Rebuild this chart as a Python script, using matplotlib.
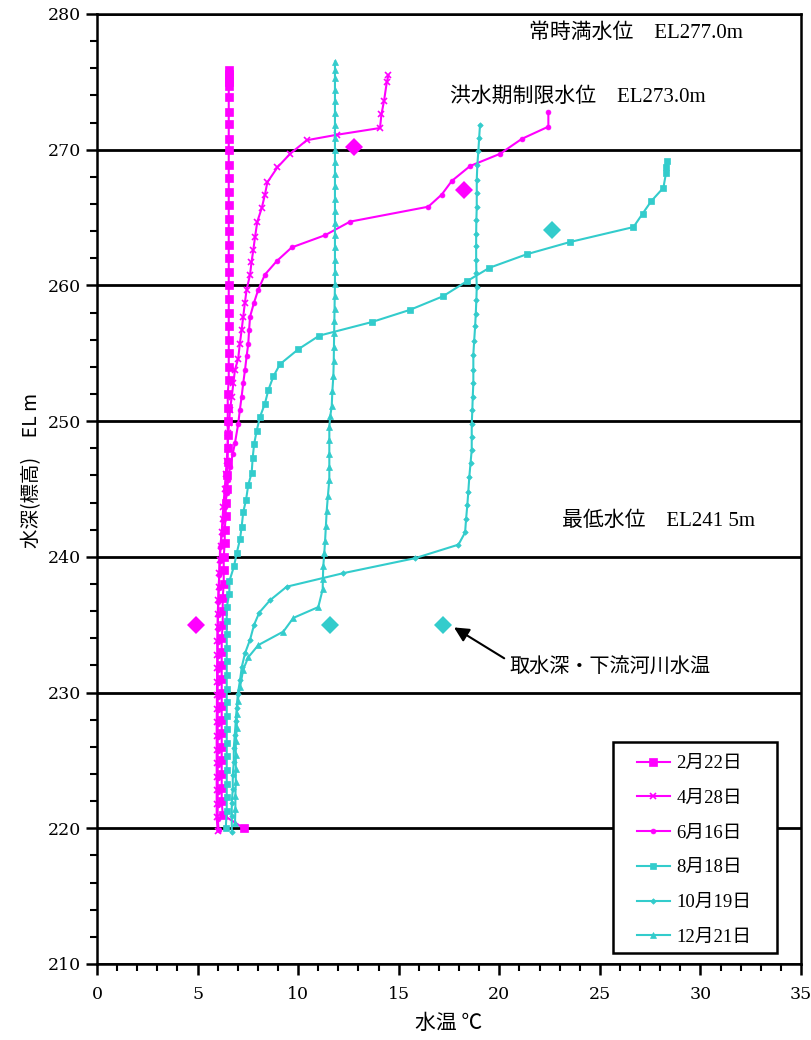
import matplotlib
matplotlib.use("Agg")
import matplotlib.pyplot as plt
from matplotlib.ticker import MultipleLocator
from matplotlib.patches import Rectangle

CJK = ['Liberation Serif', 'Noto Sans CJK JP', 'DejaVu Sans']
plt.rcParams['font.family'] = CJK

MAGENTA = '#FF00FF'
CYAN = '#33CCCC'

# ---- data ----
labels = ['2月22日', '4月28日', '6月16日', '8月18日', '10月19日', '12月21日']

el_feb = [275.9, 275.6, 275.3, 275.0, 274.7, 273.9, 272.8, 271.9, 270.8, 270.0,
          268.9, 267.9, 266.9, 265.9, 264.9, 264.0, 263.0, 262.0, 261.0, 260.0,
          259.0, 258.0, 257.0, 256.0, 255.0, 254.0, 253.0, 252.0, 251.0, 250.0,
          249.0, 248.0, 247.0, 246.0, 245.0, 244.0, 243.0, 242.0, 241.0, 240.0,
          239.0, 238.0, 237.0, 236.0, 235.0, 234.0, 233.0, 232.0, 231.0, 230.0,
          229.0, 228.0, 227.0, 226.0, 225.0, 224.0, 223.0, 222.0, 221.0, 220.0]
t_feb = [6.55, 6.55, 6.55, 6.55, 6.55, 6.55, 6.55, 6.55, 6.55, 6.55,
         6.55, 6.55, 6.55, 6.55, 6.55, 6.55, 6.55, 6.55, 6.55, 6.55,
         6.55, 6.55, 6.55, 6.55, 6.55, 6.55, 6.55, 6.5, 6.5, 6.5,
         6.5, 6.5, 6.5, 6.45, 6.45, 6.4, 6.4, 6.35, 6.35, 6.3,
         6.3, 6.3, 6.25, 6.25, 6.25, 6.2, 6.2, 6.2, 6.2, 6.2,
         6.2, 6.2, 6.2, 6.2, 6.2, 6.2, 6.2, 6.2, 6.25, 7.3]

el_apr = [275.5, 275.0, 273.6, 272.6, 271.6, 271.1, 270.7, 269.7, 268.7, 267.6,
          266.7, 265.7, 264.7, 263.6, 262.6, 261.7, 260.8, 259.7, 258.7, 257.7,
          256.7, 255.7, 254.6, 253.8, 252.8, 251.8, 250.8, 249.9, 249.1, 248.1,
          247.1, 246.1, 245.0, 243.7, 242.8, 241.8, 240.8, 239.8, 238.8, 237.8,
          236.8, 235.8, 234.8, 233.8, 232.8, 231.8, 230.8, 229.8, 228.8, 227.8,
          226.8, 225.8, 224.8, 223.8, 222.8, 221.8, 220.8, 219.8]
t_apr = [14.49, 14.41, 14.27, 14.14, 14.07, 11.92, 10.43, 9.6, 8.97, 8.47,
         8.35, 8.19, 7.97, 7.86, 7.77, 7.68, 7.61, 7.44, 7.35, 7.27,
         7.19, 7.1, 7.02, 6.86, 6.78, 6.7, 6.61, 6.57, 6.53, 6.49,
         6.45, 6.4, 6.35, 6.28, 6.24, 6.2, 6.15, 6.1, 6.08, 6.05,
         6.03, 6.0, 6.0, 5.98, 5.98, 5.97, 5.97, 5.96, 5.96, 5.95,
         5.95, 5.95, 5.95, 5.95, 5.95, 5.95, 5.95, 6.0]

el_jun = [272.8, 271.7, 270.8, 269.7, 268.8, 267.7, 266.7, 265.8, 264.7, 263.7,
          262.8, 261.8, 260.8, 259.7, 258.7, 257.7, 256.7, 255.7, 254.8, 253.8,
          252.8, 251.8, 250.8, 249.8, 248.4, 247.6, 246.6, 245.7, 244.7, 243.7,
          242.7, 241.7, 240.7, 239.7, 238.7, 237.7, 236.7, 235.7, 234.7, 233.7,
          232.7, 231.7, 230.7, 229.7, 228.7, 227.7, 226.7, 225.7, 224.7, 223.7,
          222.7, 221.7, 220.7, 219.9]
t_jun = [22.44, 22.44, 21.12, 20.04, 18.55, 17.64, 17.14, 16.47, 12.58, 11.34,
         9.68, 8.94, 8.35, 8.02, 7.8, 7.61, 7.56, 7.52, 7.44, 7.36,
         7.27, 7.19, 7.1, 7.02, 6.86, 6.75, 6.61, 6.52, 6.45, 6.36,
         6.28, 6.2, 6.12, 6.1, 6.08, 6.05, 6.03, 6.02, 6.0, 6.0,
         6.0, 6.0, 6.0, 6.0, 6.0, 6.0, 6.0, 6.0, 6.0, 6.0,
         6.0, 6.0, 6.0, 6.05]

el_aug = [269.2, 268.7, 268.3, 267.2, 266.2, 265.3, 264.3, 263.2, 262.3, 261.3,
          260.3, 259.2, 258.2, 257.3, 256.3, 255.3, 254.2, 253.3, 252.3, 251.3,
          250.3, 249.3, 248.3, 247.3, 246.2, 245.3, 244.2, 243.3, 242.2, 241.3,
          240.3, 239.3, 238.2, 237.3, 236.3, 235.3, 234.3, 233.3, 232.3, 231.3,
          230.3, 229.3, 228.3, 227.3, 226.3, 225.3, 224.3, 223.3, 222.3, 221.3, 220.0]
t_aug = [28.33, 28.29, 28.29, 28.16, 27.55, 27.13, 26.67, 23.52, 21.37, 19.51,
         18.38, 17.2, 15.56, 13.66, 11.05, 10.01, 9.1, 8.77, 8.52, 8.35,
         8.1, 7.94, 7.81, 7.74, 7.69, 7.52, 7.41, 7.27, 7.19, 7.11,
         6.95, 6.81, 6.58, 6.58, 6.45, 6.45, 6.45, 6.45, 6.45, 6.45,
         6.45, 6.45, 6.45, 6.45, 6.45, 6.45, 6.45, 6.45, 6.45, 6.45, 6.4]

el_oct = [271.8, 270.9, 269.9, 268.9, 267.8, 266.8, 265.8, 264.8, 263.8, 262.9,
          261.9, 260.9, 259.9, 258.9, 257.9, 257.0, 255.9, 254.9, 253.8, 252.8,
          251.8, 250.8, 249.8, 248.8, 247.9, 246.9, 245.9, 244.8, 243.8, 242.8,
          241.8, 240.9, 239.9, 238.8, 237.8, 236.8, 235.9, 235.0, 233.9, 232.9,
          231.9, 230.9, 229.9, 228.9, 227.9, 226.9, 225.9, 224.9, 223.9, 222.9,
          221.9, 220.9, 219.7]
t_oct = [19.04, 19.0, 18.96, 18.91, 18.88, 18.88, 18.88, 18.86, 18.85, 18.85,
         18.85, 18.86, 18.88, 18.86, 18.83, 18.8, 18.75, 18.71, 18.71, 18.71,
         18.68, 18.66, 18.63, 18.63, 18.63, 18.57, 18.51, 18.46, 18.41, 18.35,
         18.3, 17.97, 15.81, 12.25, 9.43, 8.6, 8.07, 7.81, 7.61, 7.36,
         7.2, 7.11, 7.0, 6.95, 6.9, 6.85, 6.8, 6.8, 6.75, 6.75,
         6.7, 6.7, 6.7]

el_dec = [276.5, 275.9, 275.3, 274.4, 273.6, 272.7, 271.8, 270.9, 270.0, 269.1,
          268.2, 267.3, 266.4, 265.5, 264.6, 263.7, 262.8, 261.9, 261.0, 260.1,
          259.2, 258.3, 257.4, 256.5, 255.5, 254.4, 253.3, 252.2, 251.1, 250.4,
          249.6, 248.6, 247.6, 246.6, 245.7, 244.5, 243.4, 242.3, 241.2, 240.3,
          239.3, 238.4, 237.6, 236.3, 235.5, 234.5, 233.5, 232.6, 231.7, 230.4,
          229.4, 228.4, 227.4, 226.4, 225.4, 224.4, 223.4, 222.4, 221.4, 220.4]
t_dec = [11.83, 11.83, 11.83, 11.83, 11.83, 11.83, 11.83, 11.83, 11.83, 11.83,
         11.83, 11.83, 11.83, 11.83, 11.83, 11.83, 11.83, 11.83, 11.83, 11.83,
         11.82, 11.81, 11.8, 11.79, 11.78, 11.77, 11.75, 11.7, 11.67, 11.6,
         11.55, 11.55, 11.55, 11.55, 11.55, 11.48, 11.42, 11.38, 11.34, 11.3,
         11.25, 11.23, 11.22, 11.0, 9.76, 9.27, 8.02, 7.52, 7.27, 7.11,
         7.0, 6.95, 6.95, 6.9, 6.9, 6.9, 6.9, 6.88, 6.88, 6.86]

series_el = [el_feb, el_apr, el_jun, el_aug, el_oct, el_dec]
series_t = [t_feb, t_apr, t_jun, t_aug, t_oct, t_dec]
series_color = [MAGENTA, MAGENTA, MAGENTA, CYAN, CYAN, CYAN]
series_marker = ['s', 'x', 'o', 's', 'D', '^']
series_ms = [5.5, 4.5, 3.5, 4.5, 2.8, 4.8]

# intake depth / downstream river temperature
intake_t = [4.9, 12.8, 18.25, 22.6, 17.2, 11.6]
intake_el = [235.0, 270.2, 267.0, 264.1, 235.0, 235.0]
intake_color = [MAGENTA, MAGENTA, MAGENTA, CYAN, CYAN, CYAN]

level_text = ['常時満水位　EL277.0m', '洪水期制限水位　EL273.0m', '最低水位　EL241 5m']
level_x = [21.5, 17.55, 23.1]
level_y = [278.6, 273.9, 242.6]

# ---- figure ----
fig = plt.figure(figsize=(8.11, 10.40), dpi=100)
ax = fig.add_axes([97/811, 1 - 964/1040, 704/811, 950/1040])

ax.set_xlim(0, 35)
ax.set_ylim(210, 280)

for el, t, c, m, ms, lab in zip(series_el, series_t, series_color,
                                 series_marker, series_ms, labels):
    mew = 1.2 if m == 'x' else 0.5
    ax.plot(t, el, color=c, marker=m, markersize=ms, lw=1.5,
            markeredgecolor=c, markerfacecolor=c, markeredgewidth=mew,
            label=lab, zorder=3)

for t, el, c in zip(intake_t, intake_el, intake_color):
    ax.plot([t], [el], linestyle='none', marker='D', markersize=9.5,
            color=c, markeredgewidth=0, zorder=4)

for txt, x, y in zip(level_text, level_x, level_y):
    ax.text(x, y, txt, fontsize=15, va='center', ha='left',
            family=CJK, zorder=5)

ax.annotate('取水深・下流河川水温', xy=(17.75, 234.8), xytext=(20.5, 231.8),
            fontsize=14.5, va='center', ha='left', family=CJK,
            arrowprops=dict(arrowstyle='-|>', color='black', lw=1.5,
                            mutation_scale=22, shrinkA=2, shrinkB=0,
                            relpos=(0.0, 0.85)))

# axes styling
ax.xaxis.set_major_locator(MultipleLocator(5))
ax.xaxis.set_minor_locator(MultipleLocator(1))
ax.yaxis.set_major_locator(MultipleLocator(10))
ax.yaxis.set_minor_locator(MultipleLocator(2))
ax.tick_params(axis='both', which='major', direction='out', length=8,
               width=1.8, labelsize=12.5, color='black')
ax.tick_params(axis='both', which='minor', direction='out', length=5,
               width=1.5, color='black')
ax.tick_params(axis='x', pad=8)
for lab in ax.get_xticklabels() + ax.get_yticklabels():
    lab.set_family('DejaVu Serif')

ax.yaxis.grid(True, which='major', color='black', lw=2.0, zorder=1)
ax.set_axisbelow(True)
for s in ax.spines.values():
    s.set_linewidth(1.8)

ax.set_xlabel('水温 ℃', fontsize=15, family=['Noto Sans CJK JP', 'DejaVu Sans'],
              labelpad=6)
ax.set_ylabel('水深(標高)　EL m', fontsize=14,
              family=['Noto Sans CJK JP', 'DejaVu Sans'], labelpad=4)
ax.yaxis.label.set_y(0.52)

# legend: frame drawn as a rectangle, entries placed inside it
frame = Rectangle((516/704, 11/950), 164/704, 211/950, transform=ax.transAxes,
                  facecolor='white', edgecolor='black', lw=1.8, zorder=9)
ax.add_patch(frame)
leg = ax.legend(loc='upper left', bbox_to_anchor=(540/704, 209/950),
                borderaxespad=0, borderpad=0, frameon=False,
                labelspacing=0.94, handlelength=1.75, handletextpad=0.35,
                prop={'family': CJK, 'size': 13.5})
leg.set_zorder(10)

fig.savefig('out.png', dpi=100)
